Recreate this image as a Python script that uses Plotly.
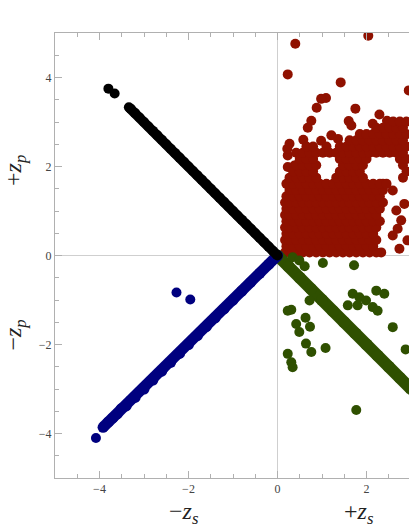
import plotly.graph_objects as go

# ---------------- data ----------------
# black: upper-left branch (continuous run, then two loose points)
black_x = [0.0, -0.1, -0.2, -0.3, -0.4, -0.5, -0.6, -0.7, -0.8, -0.9, -1.0, -1.1, -1.2, -1.3,
           -1.4, -1.5, -1.6, -1.7, -1.8, -1.9, -2.0, -2.1, -2.2, -2.3, -2.4, -2.5, -2.6, -2.7,
           -2.8, -2.9, -3.0, -3.1, -3.2, -3.3, -3.34]
black_y = [0.0, 0.1, 0.2, 0.3, 0.4, 0.5, 0.6, 0.7, 0.8, 0.9, 1.0, 1.1, 1.2, 1.3,
           1.4, 1.5, 1.6, 1.7, 1.8, 1.9, 2.0, 2.1, 2.2, 2.3, 2.4, 2.5, 2.6, 2.7,
           2.8, 2.9, 3.0, 3.1, 3.2, 3.3, 3.33]
black_loose_x = [-3.66, -3.8]
black_loose_y = [3.64, 3.75]

# blue: lower-left branch
blue_x = [0.0, -0.2, -0.4, -0.6, -0.8, -1.0, -1.2, -1.4, -1.6, -1.8, -2.0, -2.2, -2.4,
          -2.6, -2.8, -3.0, -3.2, -3.4, -3.6, -3.7, -3.8, -3.92]
blue_y = [0.0, -0.2, -0.4, -0.6, -0.8, -1.0, -1.2, -1.4, -1.6, -1.8, -2.0, -2.2, -2.4,
          -2.6, -2.8, -3.0, -3.19, -3.38, -3.56, -3.65, -3.74, -3.86]
blue_loose_x = [-3.02, -3.3, -3.52, -4.08, -2.27, -1.96]
blue_loose_y = [-2.98, -3.25, -3.44, -4.1, -0.83, -0.99]

# green: lower-right branch plus scattered points
green_x = [0.0, 0.25, 0.5, 0.75, 1.0, 1.25, 1.5, 1.75, 2.0, 2.25, 2.5, 2.75, 3.0]
green_y = [0.0, -0.25, -0.5, -0.75, -1.0, -1.25, -1.5, -1.75, -2.0, -2.25, -2.5, -2.75, -3.0]
green_loose_x = [0.34, 0.49, 0.61, 1.02, 1.72, 0.72, 0.31, 0.23, 0.42, 0.49, 0.63, 0.73,
                 0.64, 0.76, 1.08, 0.23, 0.31, 0.34, 1.69, 1.84, 1.99, 2.14, 2.25, 1.58,
                 1.80, 2.22, 2.40, 2.59, 2.88, 1.77]
green_loose_y = [-0.04, -0.11, -0.24, -0.17, -0.22, -1.01, -1.22, -1.24, -1.54, -1.72, -1.40,
                 -1.60, -1.98, -2.17, -2.08, -2.21, -2.40, -2.51, -0.86, -0.94, -1.01, -1.16,
                 -1.24, -1.12, -1.12, -0.79, -0.86, -1.61, -2.11, -3.47]

# red: upper-right cloud (scattered points)
red_sparse_x = [0.40, 2.04, 0.23, 1.42, 1.09, 0.98, 0.88, 1.75, 0.76, 0.68, 1.60, 1.66,
                2.29, 2.46, 2.14, 2.95, 0.58, 0.27, 0.23, 0.23, 0.38, 0.98, 1.21, 1.36,
                0.22, 2.33, 2.74, 2.92, 2.59, 2.70, 2.78, 2.67, 2.85, 2.59, 2.37]
red_sparse_y = [4.76, 4.94, 4.07, 3.89, 3.54, 3.52, 3.32, 3.30, 3.03, 2.87, 3.02, 2.92,
                3.17, 3.03, 2.96, 3.71, 2.60, 2.51, 2.25, 1.99, 2.02, 2.58, 2.70, 2.62,
                2.40, 0.07, 0.15, 0.34, 0.45, 0.60, 0.79, 1.01, 1.16, 1.46, 1.61]

# red: dense part, one list of x values per row
red_row_y = [0.07, 0.21, 0.35, 0.49, 0.63, 0.77, 0.91, 1.05, 1.19, 1.33, 1.47, 1.61,
             1.75, 1.89, 2.03, 2.17, 2.31, 2.45, 2.59, 2.73, 2.87, 3.01]
red_row_x = [
    [0.17, 0.27, 0.42, 0.57, 0.72, 0.87, 1.02, 1.17, 1.32, 1.47, 1.62, 1.77, 1.92, 2.07, 2.22],
    [0.2, 0.35, 0.5, 0.65, 0.8, 0.95, 1.1, 1.25, 1.4, 1.55, 1.7, 1.85, 2.0, 2.15],
    [0.17, 0.27, 0.42, 0.57, 0.72, 0.87, 1.02, 1.17, 1.32, 1.47, 1.62, 1.77, 1.92, 2.07, 2.22],
    [0.2, 0.35, 0.5, 0.65, 0.8, 0.95, 1.1, 1.25, 1.4, 1.55, 1.7, 1.85, 2.0, 2.15],
    [0.17, 0.27, 0.42, 0.57, 0.72, 0.87, 1.02, 1.17, 1.32, 1.47, 1.62, 1.77, 1.92, 2.07, 2.22],
    [0.2, 0.35, 0.5, 0.65, 0.8, 0.95, 1.1, 1.25, 1.4, 1.55, 1.7, 1.85, 2.0, 2.15, 2.3],
    [0.17, 0.27, 0.42, 0.57, 0.72, 0.87, 1.02, 1.17, 1.32, 1.47, 1.62, 1.77, 1.92, 2.07, 2.22],
    [0.2, 0.35, 0.5, 0.65, 0.8, 0.95, 1.1, 1.25, 1.4, 1.55, 1.7, 1.85, 2.0, 2.15, 2.3],
    [0.17, 0.27, 0.42, 0.57, 0.72, 0.87, 1.02, 1.17, 1.32, 1.47, 1.62, 1.77, 1.92, 2.07, 2.22, 2.37],
    [0.2, 0.35, 0.5, 0.65, 0.8, 0.95, 1.1, 1.25, 1.4, 1.55, 1.7, 1.85, 2.0, 2.15, 2.3],
    [0.27, 0.42, 0.57, 0.72, 0.87, 1.02, 1.17, 1.32, 1.47, 1.62, 1.77, 1.92, 2.07, 2.22, 2.37],
    [0.2, 0.35, 0.5, 0.65, 0.8, 0.95, 1.1, 1.25, 1.4, 1.55, 1.7, 1.85, 2.0, 2.15, 2.3, 2.45],
    [0.27, 0.42, 0.57, 0.72, 0.87, 1.32, 1.47, 1.62, 1.77, 1.92, 2.82],
    [0.35, 0.5, 0.65, 0.8, 1.4, 1.55, 1.7, 1.85, 2.9],
    [0.42, 0.57, 0.72, 0.87, 1.47, 1.62, 1.77, 1.92, 2.82],
    [0.5, 0.65, 0.8, 1.4, 1.55, 1.7, 1.85, 2.0, 2.75, 2.9],
    [0.42, 0.57, 0.72, 0.87, 1.02, 1.17, 1.32, 1.47, 1.62, 1.77, 1.92, 2.07, 2.22, 2.37,
     2.52, 2.67, 2.82],
    [0.65, 0.8, 1.1, 1.4, 1.55, 1.7, 1.85, 2.0, 2.15, 2.3, 2.45, 2.6, 2.75, 2.9],
    [1.62, 1.77, 1.92, 2.07, 2.22, 2.37, 2.52, 2.67, 2.82],
    [1.85, 2.0, 2.15, 2.3, 2.45, 2.6, 2.75, 2.9],
    [2.22, 2.37, 2.52, 2.67, 2.82],
    [2.6, 2.75, 2.9],
]

# axis labels and ticks
tick_vals = [-4, -2, 0, 2, 4]
x_label_neg, x_label_pos = "−<i>z</i><sub><i>s</i></sub>", "+<i>z</i><sub><i>s</i></sub>"
y_label_neg, y_label_pos = "−<i>z</i><sub><i>p</i></sub>", "+<i>z</i><sub><i>p</i></sub>"

# ---------------- build figure ----------------
red_x = list(red_sparse_x)
red_y = list(red_sparse_y)
for ry, rxs in zip(red_row_y, red_row_x):
    for rx in rxs:
        red_x.append(rx)
        red_y.append(ry)

MS = 10
RED, GREEN, BLUE, BLACK = "#8f1100", "#2f5000", "#00007f", "#000000"


def dots(x, y, color):
    return go.Scatter(x=x, y=y, mode="markers", hoverinfo="skip",
                      marker=dict(size=MS, color=color, line=dict(width=0)))


def run(x, y, color, width):
    return go.Scatter(x=x, y=y, mode="lines+markers", hoverinfo="skip",
                      line=dict(color=color, width=width),
                      marker=dict(size=width, color=color, line=dict(width=0)))


fig = go.Figure()
fig.add_trace(dots(red_x, red_y, RED))
fig.add_trace(run(green_x, green_y, GREEN, 12))
fig.add_trace(dots(green_loose_x, green_loose_y, GREEN))
fig.add_trace(run(blue_x, blue_y, BLUE, 11))
fig.add_trace(dots(blue_loose_x, blue_loose_y, BLUE))
fig.add_trace(run(black_x, black_y, BLACK, 10))
fig.add_trace(dots(black_loose_x, black_loose_y, BLACK))

axis_common = dict(
    showgrid=False, zeroline=True, zerolinecolor="#cfcfcf", zerolinewidth=1,
    showline=True, linecolor="#b0b0b0", linewidth=1,
    ticks="inside", ticklen=7, tickcolor="#b0b0b0", tickwidth=1,
    tickvals=tick_vals,
    minor=dict(dtick=0.5, tick0=0, ticks="inside", ticklen=4, tickcolor="#b0b0b0", showgrid=False),
    tickfont=dict(family="Liberation Serif", size=12, color="#444444"),
)
fig.update_xaxes(range=[-5, 2.955], mirror="allticks", **axis_common)
fig.update_yaxes(range=[-5, 5], mirror=False, **axis_common)

lab_font = dict(family="Liberation Serif", size=24, color="#222222")
fig.add_annotation(x=-2.1, y=0, xref="x", yref="paper", yshift=-35, yanchor="middle",
                   xanchor="center", text=x_label_neg, showarrow=False, font=lab_font,
                   borderpad=0)
fig.add_annotation(x=1.84, y=0, xref="x", yref="paper", yshift=-35, yanchor="middle",
                   xanchor="center", text=x_label_pos, showarrow=False, font=lab_font,
                   borderpad=0)
fig.add_annotation(x=0, y=1.9, xref="paper", yref="y", xshift=-40, xanchor="center",
                   yanchor="middle", text=y_label_pos, showarrow=False, font=lab_font,
                   textangle=-90, borderpad=0)
fig.add_annotation(x=0, y=-1.8, xref="paper", yref="y", xshift=-40, xanchor="center",
                   yanchor="middle", text=y_label_neg, showarrow=False, font=lab_font,
                   textangle=-90, borderpad=0)

fig.update_layout(width=409, height=529, margin=dict(l=55, r=0, t=33, b=51),
                  paper_bgcolor="white", plot_bgcolor="white", showlegend=False,
                  hovermode=False)

fig.write_html("out.html", config={"displayModeBar": False, "staticPlot": True},
               post_script="document.body.style.margin='0px';document.body.style.overflow='hidden';")
